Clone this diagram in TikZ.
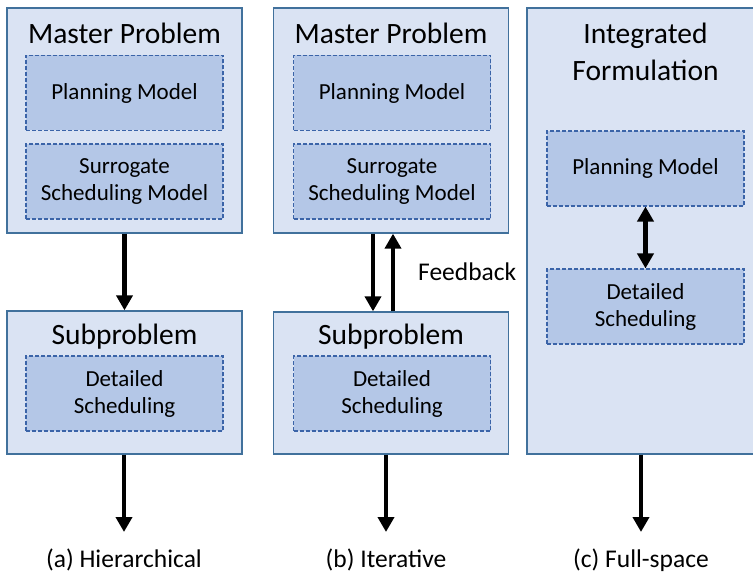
\documentclass[tikz,border=0pt]{standalone}
\usepackage{fontspec}
\setmainfont{Carlito}
\usepackage{tikz}
\usetikzlibrary{arrows.meta, positioning}
\definecolor{outerfill}{HTML}{DAE3F3}
\definecolor{innerfill}{HTML}{B4C7E7}
\definecolor{edgeblue}{HTML}{41719C}
\definecolor{dashblue}{HTML}{3B64A8}

\begin{document}
\begin{tikzpicture}[x=1pt, y=-1pt]

	% Define block styles
	\tikzstyle{panel} = [rectangle, draw=edgeblue, fill=outerfill, line width=1.3pt,
	minimum width=235pt, inner sep=0pt]
	\tikzstyle{inner} = [rectangle, draw=dashblue, fill=innerfill, dash pattern=on 4pt off 2pt,
	line width=1.1pt, minimum width=197pt, minimum height=75pt, inner sep=0pt, align=center,
	font=\fontsize{23}{27}\selectfont]
	\tikzstyle{title} = [font=\fontsize{29.5}{37}\selectfont, align=center, inner sep=0pt]
	\tikzstyle{caption} = [font=\fontsize{25.5}{30}\selectfont, inner sep=0pt]
	\tikzstyle{line} = [draw, line width=4.4pt, -{Triangle[length=15pt, width=16pt]}]
	\tikzstyle{both} = [draw, line width=4.4pt, {Triangle[length=15pt, width=16pt]}-{Triangle[length=15pt, width=16pt]}]

	\useasboundingbox (0,0) rectangle (753,575);

	% Panels
	\node [panel, minimum height=225pt] (amaster) at (124.5,120.5) {};
	\node [panel, minimum height=143pt] (asub) at (124.5,382.5) {};
	\node [panel, minimum height=225pt] (bmaster) at (391,120.5) {};
	\node [panel, minimum height=142pt] (bsub) at (391,383) {};
	\node [panel, minimum width=237pt, minimum height=446pt] (cfull) at (645.5,231) {};

	% Titles
	\node [title] (atitle) at (124.5,33) {Master Problem};
	\node [title] (asubtitle) at (124.5,337) {Subproblem};
	\node [title] (btitle) at (391,33) {Master Problem};
	\node [title] (bsubtitle) at (391,337) {Subproblem};
	\node [title] (ctitle) at (645.5,51.5) {Integrated\\Formulation};

	% Inner models
	\node [inner] (aplan) at (124.5,93) {Planning Model};
	\node [inner] (asurr) at (124.5,181.5) {Surrogate\\Scheduling Model};
	\node [inner] (adet) at (124.5,393.5) {Detailed\\Scheduling};
	\node [inner] (bplan) at (392,93) {Planning Model};
	\node [inner] (bsurr) at (392,181.5) {Surrogate\\Scheduling Model};
	\node [inner] (bdet) at (392,393.5) {Detailed\\Scheduling};
	\node [inner] (cplan) at (645.5,168.5) {Planning Model};
	\node [inner] (cdet) at (645.5,306.5) {Detailed\\Scheduling};

	% Captions
	\node [caption] (acap) at (124,560) {(a) Hierarchical};
	\node [caption] (bcap) at (386,560) {(b) Iterative};
	\node [caption] (ccap) at (641,560) {(c) Full-space};
	\node [caption, anchor=west] (feedback) at (418,272) {Feedback};
	\coordinate (aend) at (124,532);
	\coordinate (bend) at (386,532);
	\coordinate (cend) at (641,532);

	% Paths
	\path [line] (amaster.south) -- (asub.north);
	\path [line] ([xshift=-18pt]bmaster.south) -- ([xshift=-18pt]bsub.north);
	\path [line] ([xshift=2pt]bsub.north) -- ([xshift=2pt]bmaster.south);
	\path [both] (cplan.south) -- (cdet.north);
	\path [line] (asub.south -| aend) -- (aend);
	\path [line] (bsub.south -| bend) -- (bend);
	\path [line] (cfull.south -| cend) -- (cend);
\end{tikzpicture}
\end{document}
